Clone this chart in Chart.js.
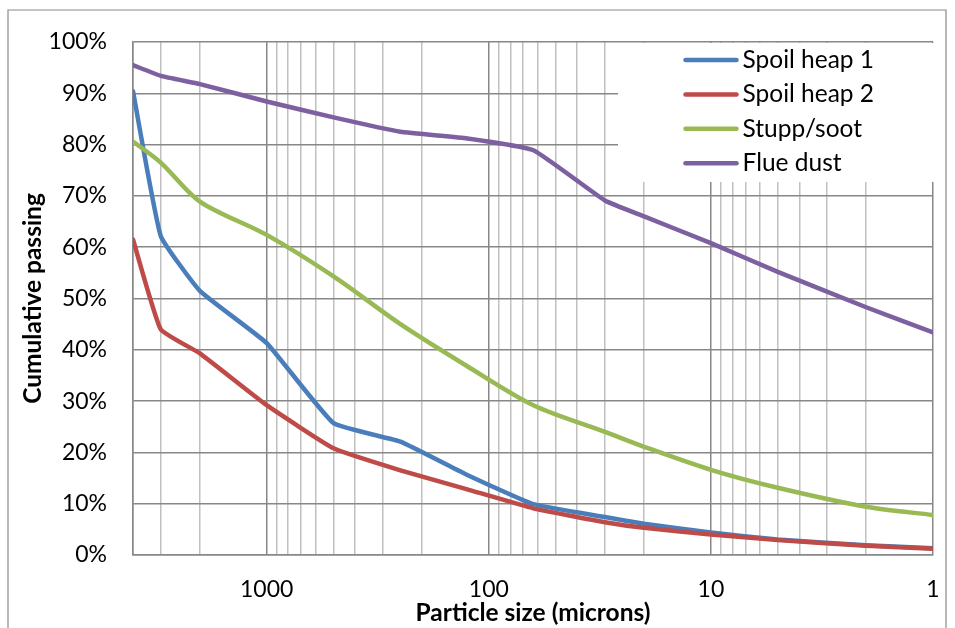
<!DOCTYPE html>
<html>
<head>
<meta charset="utf-8">
<title>Cumulative passing</title>
<script src="https://cdn.jsdelivr.net/npm/chart.js@4.4.0/dist/chart.umd.min.js"></script>
<style>
  html, body { margin: 0; padding: 0; background: #fff; }
  #wrap { position: relative; width: 955px; height: 628px; }
</style>
</head>
<body>
<div id="wrap"><canvas id="myChart" width="955" height="628"></canvas></div>
<script>
// particle sizes (microns), coarse to fine
const sizes = [4000, 3000, 2000, 1000, 500, 250, 125, 63, 30, 20, 10, 5, 2, 1];

// cumulative passing, %
const spoilHeap1 = [90.4, 62.2, 51.5, 41.3, 25.7, 22.1, 15.6, 9.9, 7.4, 6.1, 4.4, 3.0, 1.9, 1.3];
const spoilHeap2 = [61.5, 44.0, 39.3, 29.2, 20.8, 16.5, 12.8, 9.1, 6.4, 5.3, 4.0, 2.9, 1.8, 1.2];
const stuppSoot = [80.6, 76.5, 68.9, 62.4, 54.3, 45.0, 36.8, 29.2, 24.0, 21.1, 16.6, 13.1, 9.4, 7.8];
const flueDust = [95.5, 93.4, 91.8, 88.4, 85.3, 82.5, 81.2, 78.9, 69.1, 66.0, 60.8, 55.2, 48.3, 43.4];

const seriesNames = ['Spoil heap 1', 'Spoil heap 2', 'Stupp/soot', 'Flue dust'];
const seriesColors = ['#4a7ebb', '#be4b48', '#98b954', '#7d60a0'];
const seriesTension = [0.12, 0.12, 0.3, 0.12];
const xTickLabels = ['1', '10', '100', '1000'];

const xMin = 1;
const xMax = 4000;

// grid lines at 1..9 x 10^n, plus the left edge
const gridValues = [];
[1, 10, 100, 1000].forEach(d => {
    for (let m = 1; m <= 9; m++) {
        if (d * m < xMax) gridValues.push(d * m);
    }
});
gridValues.push(xMax);

const isDecade = v => Math.abs(Math.log10(v) - Math.round(Math.log10(v))) < 1e-9;

const fontFamily = 'Lato';
Chart.defaults.font.family = fontFamily;
Chart.defaults.color = '#000';

const darkGrid = '#878787';
const lightGrid = '#c0c0c0';

const outerFrame = {
    id: 'outerFrame',
    beforeDraw(chart) {
        const ctx = chart.ctx;
        ctx.save();
        ctx.fillStyle = '#fff';
        ctx.fillRect(0, 0, chart.width, chart.height);
        ctx.strokeStyle = '#8a8a8a';
        ctx.lineWidth = 1.2;
        ctx.beginPath();
        ctx.moveTo(8, chart.height + 5);
        ctx.lineTo(8, 10);
        ctx.lineTo(946, 10);
        ctx.lineTo(946, chart.height + 5);
        ctx.stroke();
        ctx.restore();
    }
};

const boxLegend = {
    id: 'boxLegend',
    afterDatasetsDraw(chart) {
        const ctx = chart.ctx;
        const area = chart.chartArea;
        ctx.save();
        ctx.fillStyle = '#fff';
        ctx.fillRect(618, area.top + 1, area.right + 4 - 618, 182 - area.top - 1);
        ctx.font = '24.5px ' + fontFamily;
        ctx.textBaseline = 'middle';
        ctx.textAlign = 'left';
        chart.data.datasets.forEach((ds, i) => {
            const y = 60 + i * 34.4;
            ctx.strokeStyle = ds.borderColor;
            ctx.lineWidth = 4.5;
            ctx.lineCap = 'round';
            ctx.beginPath();
            ctx.moveTo(685.5, y);
            ctx.lineTo(736.5, y);
            ctx.stroke();
            ctx.fillStyle = '#000';
            ctx.fillText(ds.label, 742.5, y);
        });
        ctx.restore();
    }
};

const series = [spoilHeap1, spoilHeap2, stuppSoot, flueDust];

const ctx = document.getElementById('myChart').getContext('2d');
const myChart = new Chart(ctx, {
    type: 'line',
    data: {
        datasets: series.map((vals, i) => ({
            label: seriesNames[i],
            data: sizes.map((s, j) => ({ x: s, y: vals[j] })),
            borderColor: seriesColors[i],
            backgroundColor: seriesColors[i],
            borderWidth: 4.5,
            borderCapStyle: 'round',
            borderJoinStyle: 'round',
            pointRadius: 0,
            tension: seriesTension[i],
            fill: false,
            order: series.length - i // later series drawn on top
        }))
    },
    options: {
        responsive: false,
        animation: false,
        devicePixelRatio: 1,
        layout: { padding: { left: 0, right: 22, top: 42, bottom: 0 } },
        plugins: {
            legend: { display: false },
            tooltip: { enabled: false }
        },
        scales: {
            x: {
                type: 'logarithmic',
                reverse: true,
                min: xMin,
                max: xMax,
                afterBuildTicks: (scale) => {
                    scale.ticks = gridValues.map(v => ({ value: v }));
                },
                afterFit: (scale) => { scale.height = 73; },
                ticks: {
                    autoSkip: false,
                    maxRotation: 0,
                    padding: 21,
                    font: { size: 23 },
                    callback: (v) => xTickLabels.includes(String(v)) ? String(v) : ''
                },
                grid: {
                    drawTicks: false,
                    lineWidth: 1.5,
                    color: (c) => (c.tick && (isDecade(c.tick.value) || c.tick.value === xMax)) ? darkGrid : lightGrid
                },
                border: { color: darkGrid, width: 1.5 },
                title: {
                    display: true,
                    text: 'Particle size (microns)',
                    font: { size: 24.5, weight: 'bold' },
                    padding: { top: 0, bottom: 0 }
                }
            },
            y: {
                min: 0,
                max: 100,
                afterFit: (scale) => { scale.width = 133; },
                ticks: {
                    stepSize: 10,
                    padding: 26,
                    font: { size: 23 },
                    callback: (v) => v + '%'
                },
                grid: { drawTicks: false, color: darkGrid, lineWidth: 1.5 },
                border: { color: darkGrid, width: 1.5 },
                title: {
                    display: true,
                    text: 'Cumulative passing',
                    font: { size: 24.5, weight: 'bold' },
                    padding: { top: 18, bottom: 0 }
                }
            }
        }
    },
    plugins: [outerFrame, boxLegend]
});
</script>
</body>
</html>
